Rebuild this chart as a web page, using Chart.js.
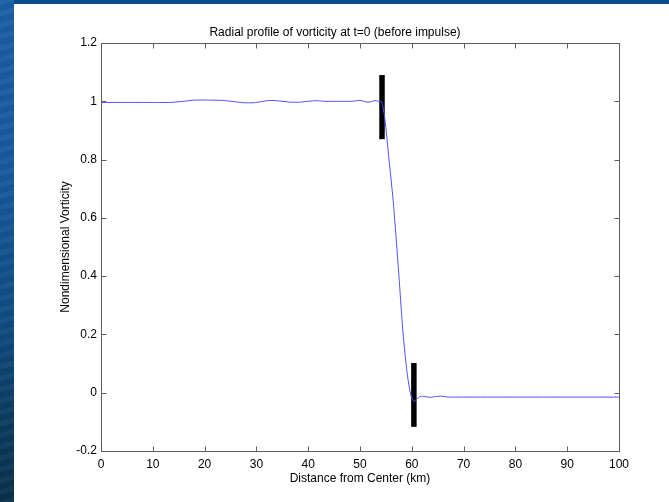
<!DOCTYPE html>
<html>
<head>
<meta charset="utf-8">
<title>Radial profile of vorticity</title>
<script src="https://cdn.jsdelivr.net/npm/chart.js@4/dist/chart.umd.min.js"></script>
<style>
  html, body { margin: 0; padding: 0; background: #fff; width: 669px; height: 502px; overflow: hidden; }
  #strip {
    position: absolute; left: 0; top: 0; width: 14px; height: 502px;
    background:
      repeating-linear-gradient(165deg, rgba(255,255,255,0.035) 0 5px, rgba(0,0,0,0.03) 5px 11px),
      linear-gradient(to bottom, #1b5fa6 0%, #17599e 35%, #104b80 65%, #0b3b5e 85%, #08324c 100%);
  }
  #topbar { position: absolute; left: 14px; top: 0; width: 655px; height: 4px; background: #0b4c8e; }
  #wrap { position: absolute; left: 51px; top: 0; width: 618px; height: 502px; }
</style>
</head>
<body>
<div id="strip"></div>
<div id="topbar"></div>
<div id="wrap"><canvas id="profile" width="618" height="502"></canvas></div>
<script>
// radial profile at t=0
const distanceKm = [0, 5, 10, 13.3, 16, 18, 21, 23.5, 26, 27.5, 29.5, 31, 32.6, 34.5, 36.5, 38.4, 40, 41.7, 43, 46, 48.5, 50, 51.5, 52.9, 53.6, 54.2,
  54.8, 55.6, 56.4, 57.4, 58.3, 59.1, 59.8, 60.4, 60.9, 61.5, 62.2, 63.5, 64.6, 65.8, 67, 70, 75, 80, 85, 90, 95, 100];
const vorticity = [0.996, 0.996, 0.996, 0.996, 1.0, 1.004, 1.004, 1.003, 0.998, 0.995, 0.995, 0.999, 1.003, 1.001, 0.997, 0.997, 1.0, 1.002, 1.0, 1.0, 1.0, 1.003, 0.997, 1.002, 1.0, 0.998,
  0.94, 0.80, 0.66, 0.43, 0.205, 0.067, -0.008, -0.03, -0.023, -0.014, -0.012, -0.016, -0.013, -0.012, -0.015, -0.015, -0.015, -0.015, -0.015, -0.015, -0.015, -0.015];

// black vertical markers at the edge of the vortex core
const markerX = [54.25, 60.4];
const markerLow = [0.87, -0.117];
const markerHigh = [1.09, 0.102];

const xMin = 0, xMax = 100, xStep = 10;
const yMin = -0.2, yMax = 1.2, yStep = 0.2;

Chart.defaults.font.family = "'Liberation Sans', Arial, sans-serif";
Chart.defaults.font.size = 12;
Chart.defaults.color = '#000';

const markerSets = markerX.map((x, i) => ({
  data: [{ x: x, y: markerLow[i] }, { x: x, y: markerHigh[i] }],
  borderColor: '#000',
  borderWidth: 5.5,
  borderCapStyle: 'butt',
  pointRadius: 0,
  showLine: true
}));

// matlab style box with inward ticks on all four sides
const boxTicks = {
  id: 'boxTicks',
  beforeDatasetsDraw(chart) {
    const { ctx, chartArea: a, scales: { x, y } } = chart;
    const len = 5;
    ctx.save();
    ctx.strokeStyle = '#5c5c5c';
    ctx.lineWidth = 1;
    ctx.beginPath();
    const l = Math.round(a.left) + 0.5, r = Math.round(a.right) + 0.5;
    const t = Math.round(a.top) + 0.5, b = Math.round(a.bottom) + 0.5;
    ctx.rect(l, t, r - l, b - t);
    x.ticks.forEach(tk => {
      const px = Math.round(x.getPixelForValue(tk.value)) + 0.5;
      ctx.moveTo(px, b); ctx.lineTo(px, b - len);
      ctx.moveTo(px, t); ctx.lineTo(px, t + len);
    });
    y.ticks.forEach(tk => {
      const py = Math.round(y.getPixelForValue(tk.value)) + 0.5;
      ctx.moveTo(l, py); ctx.lineTo(l + len, py);
      ctx.moveTo(r, py); ctx.lineTo(r - len, py);
    });
    ctx.stroke();
    ctx.restore();
  }
};

new Chart(document.getElementById('profile'), {
  type: 'scatter',
  data: {
    datasets: [{
      data: distanceKm.map((d, i) => ({ x: d, y: vorticity[i] })),
      borderColor: '#4f4fff',
      borderWidth: 1,
      pointRadius: 0,
      showLine: true,
      tension: 0.2
    }, ...markerSets]
  },
  options: {
    responsive: false,
    animation: false,
    devicePixelRatio: 1,
    layout: { padding: { top: 25.6, right: 50, left: 0, bottom: 0 } },
    plugins: {
      legend: { display: false },
      tooltip: { enabled: false },
      title: {
        display: true,
        text: 'Radial profile of vorticity at t=0 (before impulse)',
        font: { size: 12, weight: 'normal' },
        color: '#000',
        padding: { top: 0, bottom: 3 }
      }
    },
    scales: {
      x: {
        type: 'linear',
        min: xMin, max: xMax,
        afterFit: s => { s.height = 51; },
        grid: { display: false, drawTicks: false },
        border: { display: false },
        ticks: { stepSize: xStep, padding: 6, maxRotation: 0 },
        title: { display: true, text: 'Distance from Center (km)', padding: { top: 0, bottom: 16 } }
      },
      y: {
        min: yMin, max: yMax,
        afterFit: s => { s.width = 50; },
        grid: { display: false, drawTicks: false },
        border: { display: false },
        ticks: { stepSize: yStep, padding: 4, callback: v => String(Math.round(v * 10) / 10) },
        title: { display: true, text: 'Nondimensional Vorticity', padding: { top: 7, bottom: 0 } }
      }
    }
  },
  plugins: [boxTicks]
});
</script>
</body>
</html>
